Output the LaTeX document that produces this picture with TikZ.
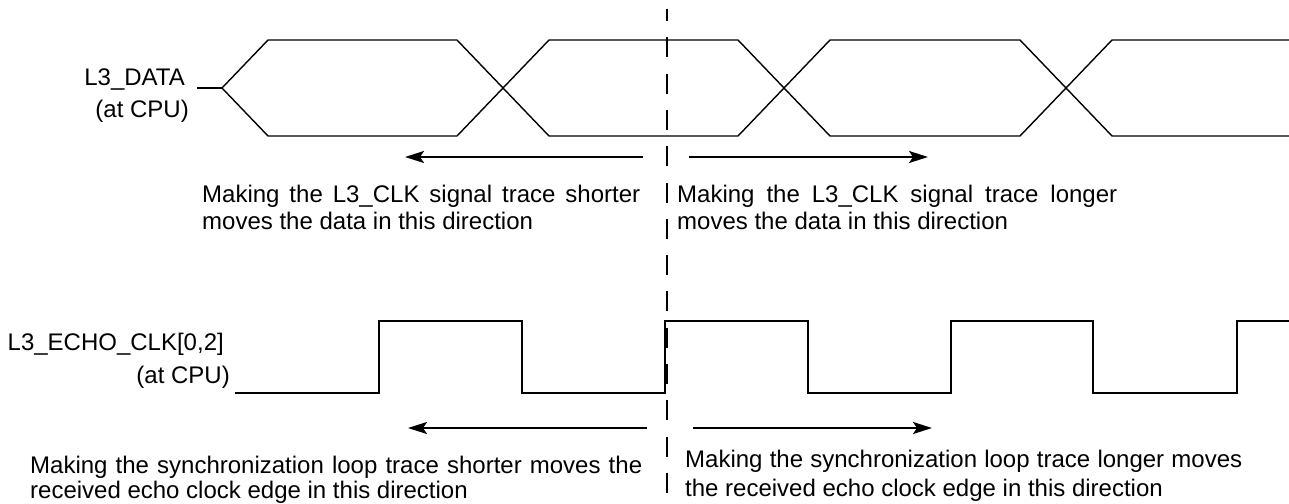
\documentclass[tikz,border=0pt]{standalone}
\usepackage{fontspec}
\setmainfont{Liberation Sans}
\usetikzlibrary{arrows.meta}
\begin{document}
\begin{tikzpicture}[x=1pt,y=-1pt,
  txt/.style={anchor=base west,inner sep=0pt,font=\fontsize{24}{27}\selectfont},
  lbl/.style={anchor=base east,inner sep=0pt,font=\fontsize{24}{27}\selectfont},
  dataline/.style={line width=1.4pt,line join=miter},
  clkline/.style={line width=2.4pt,line join=miter},
  dirarrow/.style={line width=2pt,-{Stealth[length=19pt,width=12pt,inset=4pt]}},
  marker/.style={line width=2pt,dash pattern=on 20pt off 16.3pt,dash phase=8pt}]
\useasboundingbox (0,0) rectangle (1289,503);
% data waveform
\draw[dataline] (197,88) -- (222,88);
\draw[dataline] (222,88) -- (268,40) -- (457,40) -- (549,136) -- (738,136) -- (830,40) -- (1020,40) -- (1112,136) -- (1289,136);
\draw[dataline] (222,88) -- (268,136) -- (457,136) -- (549,40) -- (738,40) -- (830,136) -- (1020,136) -- (1112,40) -- (1289,40);
% clock waveform
\draw[clkline] (235,393) -- (379,393) -- (379,321) -- (522,321) -- (522,393) -- (665,393) -- (665,321) -- (808,321) -- (808,393) -- (951,393) -- (951,321) -- (1093,321) -- (1093,393) -- (1237,393) -- (1237,321) -- (1289,321);
% reference marker
\coordinate (mtop) at (667,9);
\coordinate (mbot) at (667,493);
\draw[marker] (mtop) -- (mbot);
% labels
\node[lbl] (ldata) at (185,85) {L3\_DATA};
\node[lbl] (ldatacpu) at (189,117) {(at CPU)};
\node[lbl] (lclk) at (224,350) {L3\_ECHO\_CLK[0,2]};
\node[lbl] (lclkcpu) at (230,383) {(at CPU)};
% arrows
\coordinate (a1s) at (643,157); \coordinate (a1e) at (405,157);
\coordinate (a2s) at (689,157); \coordinate (a2e) at (928,157);
\coordinate (a3s) at (647,428); \coordinate (a3e) at (408,428);
\coordinate (a4s) at (693,428); \coordinate (a4e) at (932,428);
\draw[dirarrow] (a1s) -- (a1e);
\draw[dirarrow] (a2s) -- (a2e);
\draw[dirarrow] (a3s) -- (a3e);
\draw[dirarrow] (a4s) -- (a4e);
% texts
\node[txt] (t1a) at (202,202) {\makebox[438pt][s]{Making the L3\_CLK signal trace shorter}};
\node[txt] (t1b) at (202,229) {moves the data in this direction};
\node[txt] (t2a) at (677,202) {\makebox[440pt][s]{Making the L3\_CLK signal trace longer}};
\node[txt] (t2b) at (677,229) {moves the data in this direction};
\node[txt] (t3a) at (30,473) {\makebox[612pt][s]{Making the synchronization loop trace shorter moves the}};
\node[txt] (t3b) at (30,498) {received echo clock edge in this direction};
\node[txt] (t4a) at (685,467) {\makebox[557pt][s]{Making the synchronization loop trace longer moves}};
\node[txt] (t4b) at (685,496) {the received echo clock edge in this direction};
\end{tikzpicture}
\end{document}
